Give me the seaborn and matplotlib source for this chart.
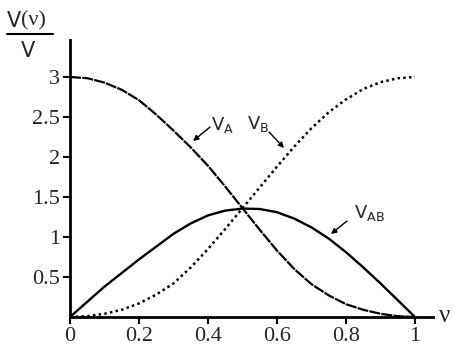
import matplotlib
matplotlib.use("Agg")
import matplotlib.pyplot as plt
import seaborn as sns
import pandas as pd

nu = [0.0, 0.05, 0.1, 0.15, 0.2, 0.25, 0.3, 0.35, 0.4, 0.45, 0.5,
      0.55, 0.6, 0.65, 0.7, 0.75, 0.8, 0.85, 0.9, 0.95, 1.0]
v_a = [3.0, 2.985, 2.93, 2.84, 2.71, 2.53, 2.33, 2.12, 1.89, 1.63, 1.36,
       1.09, 0.83, 0.6, 0.41, 0.27, 0.16, 0.09, 0.04, 0.01, 0.0]
v_b = [0.0, 0.01, 0.04, 0.09, 0.17, 0.28, 0.42, 0.62, 0.85, 1.1, 1.36,
       1.62, 1.88, 2.13, 2.36, 2.56, 2.72, 2.85, 2.935, 2.985, 3.0]
v_ab = [0.0, 0.19, 0.38, 0.55, 0.72, 0.88, 1.04, 1.17, 1.27, 1.33, 1.355,
        1.35, 1.31, 1.23, 1.12, 0.98, 0.81, 0.62, 0.42, 0.21, 0.0]

x_ticks = [0, 0.2, 0.4, 0.6, 0.8, 1]
x_ticklabels = ["0", "0.2", "0.4", "0.6", "0.8", "1"]
y_ticks = [0.5, 1, 1.5, 2, 2.5, 3]
y_ticklabels = ["0.5", "1", "1.5", "2", "2.5", "3"]

sns.set_style("white")
plt.rcParams['mathtext.fontset'] = 'dejavusans'

W, H = 457, 349
fig = plt.figure(figsize=(W / 100, H / 100), dpi=100)
ax = fig.add_axes([70 / W, (H - 317) / H, (433 - 70) / W, (317 - 40) / H])

df = pd.DataFrame({"nu": nu, "A": v_a, "B": v_b, "AB": v_ab})
sns.lineplot(data=df, x="nu", y="A", ax=ax, color="black", lw=1.6,
             legend=False)
ax.lines[-1].set_dashes([5, 0.5])
sns.lineplot(data=df, x="nu", y="B", ax=ax, color="black", lw=1.8,
             legend=False)
ax.lines[-1].set_linestyle((0, (1, 1.3)))
sns.lineplot(data=df, x="nu", y="AB", ax=ax, color="black", lw=1.7,
             legend=False)

ax.set_xlim(0, 363 / 345)
ax.set_ylim(0, 277 / 80)
ax.set_xticks(x_ticks)
ax.set_xticklabels(x_ticklabels)
ax.set_yticks(y_ticks)
ax.set_yticklabels(y_ticklabels)
ax.set_xlabel("")
ax.set_ylabel("")
for s in ["top", "right"]:
    ax.spines[s].set_visible(False)
for s in ["left", "bottom"]:
    ax.spines[s].set_linewidth(2)
    ax.spines[s].set_color("black")
ax.tick_params(direction="out", length=5, width=1.5, color="black",
               labelsize=16, pad=2, left=True, bottom=True)
for lab in ax.get_xticklabels() + ax.get_yticklabels():
    lab.set_family("Liberation Serif")

# nu axis label
fig.text(439 / W, 1 - 316 / H, "ν", fontsize=18, family="Liberation Serif",
         ha="left", va="center")

# y label as fraction
fig.text(21 / W, 1 - 21 / H, "V", fontsize=15, family="DejaVu Sans",
         ha="right", va="center")
fig.text(21 / W, 1 - 21 / H, "(ν)", fontsize=16, family="Liberation Serif",
         ha="left", va="center")
fig.add_artist(plt.Line2D([7 / W, 53 / W], [1 - 34 / H, 1 - 34 / H],
                          color="black", lw=1.5))
fig.text(28 / W, 1 - 51 / H, "V", fontsize=15, family="DejaVu Sans",
         ha="center", va="center")

def to_data(px, py):
    return ((px - 70) / 345, (317 - py) / 80)

annots = [
    (r"$\mathrm{V}_\mathrm{A}$", (210, 127), (193, 141), (211, 125)),
    (r"$\mathrm{V}_\mathrm{B}$", (269, 132), (284, 148), (247, 124)),
    (r"$\mathrm{V}_\mathrm{AB}$", (347, 221), (331, 234), (354, 213)),
]
for txt, start, end, lab in annots:
    ax.annotate("", xy=to_data(*end), xytext=to_data(*start),
                arrowprops=dict(arrowstyle="-|>", color="black", lw=1,
                                mutation_scale=8, shrinkA=0, shrinkB=0))
    ax.text(*to_data(*lab), txt, fontsize=13, ha="left", va="center")

fig.savefig("out.png", dpi=100)
